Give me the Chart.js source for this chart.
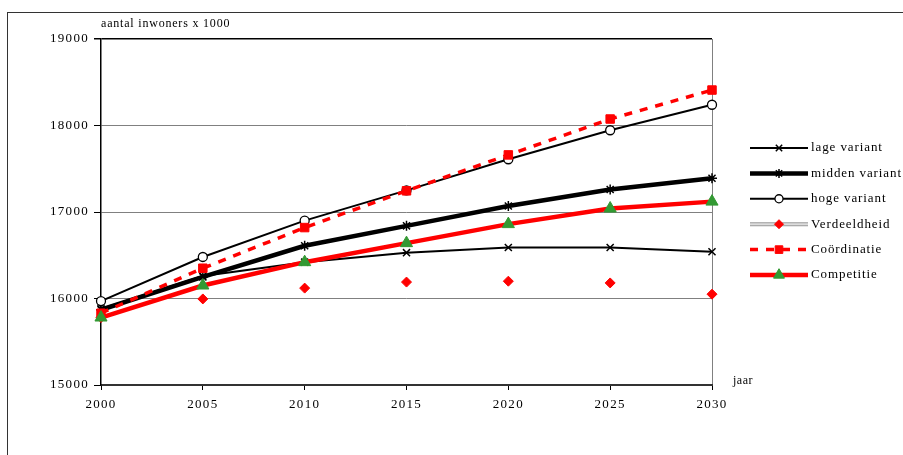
<!DOCTYPE html>
<html>
<head>
<meta charset="utf-8">
<script src="https://cdn.jsdelivr.net/npm/chart.js@4.4.0/dist/chart.umd.min.js"></script>
<style>
  html, body { margin: 0; padding: 0; background: #fff; }
  #wrap { position: relative; width: 903px; height: 455px; overflow: hidden; }
  #frame { position: absolute; left: 7px; top: 12px; width: 1000px; height: 1000px; border-left: 1.5px solid #333; border-top: 1.5px solid #333; }
  canvas { position: absolute; left: 0; top: 0; }
</style>
</head>
<body>
<div id="wrap">
  <div id="frame"></div>
  <canvas id="c" width="903" height="455"></canvas>
</div>
<script>
const years = ['2000', '2005', '2010', '2015', '2020', '2025', '2030'];
const lageVariant = [15880, 16260, 16420, 16530, 16590, 16590, 16540];
const middenVariant = [15870, 16250, 16610, 16840, 17070, 17260, 17390];
const hogeVariant = [15970, 16480, 16900, 17250, 17610, 17945, 18240];
const verdeeldheid = [15780, 15995, 16120, 16190, 16200, 16180, 16050];
const coordinatie = [15830, 16350, 16820, 17245, 17660, 18075, 18410];
const competitie = [15780, 16150, 16420, 16640, 16860, 17040, 17120];
const yTitle = 'aantal inwoners x 1000';
const xTitle = 'jaar';

const SERIF = '"Liberation Serif", "DejaVu Serif", serif';

const datasets = [
  { label: 'lage variant', data: lageVariant, borderColor: '#000', borderWidth: 2,
    pointStyle: 'crossRot', pointRadius: 5, pointBorderColor: '#000', pointBorderWidth: 1.5, pointBackgroundColor: '#000', order: 6 },
  { label: 'midden variant', data: middenVariant, borderColor: '#000', borderWidth: 4.5,
    pointStyle: 'star', pointRadius: 5, pointBorderColor: '#000', pointBorderWidth: 1.5, pointBackgroundColor: '#000', order: 5 },
  { label: 'hoge variant', data: hogeVariant, borderColor: '#000', borderWidth: 2,
    pointStyle: 'circle', pointRadius: 4.5, pointBorderColor: '#000', pointBorderWidth: 1.3, pointBackgroundColor: '#fff', order: 4 },
  { label: 'Verdeeldheid', data: verdeeldheid, borderColor: '#b8b8b8', borderWidth: 4, showLine: false,
    pointStyle: 'rectRot', pointRadius: 5, pointBorderColor: '#ff0000', pointBorderWidth: 1, pointBackgroundColor: '#ff0000', order: 3 },
  { label: 'Coördinatie', data: coordinatie, borderColor: '#ff0000', borderWidth: 3.5, borderDash: [8, 8],
    pointStyle: 'rect', pointRadius: 6, pointBorderColor: '#ff0000', pointBorderWidth: 1, pointBackgroundColor: '#ff0000', order: 2 },
  { label: 'Competitie', data: competitie, borderColor: '#ff0000', borderWidth: 4.5,
    pointStyle: 'triangle', pointRadius: 7, pointBorderColor: '#339933', pointBorderWidth: 1, pointBackgroundColor: '#339933', order: 1 }
];
datasets.forEach(d => { d.fill = false; d.tension = 0; d.clip = false; d.pointHoverRadius = d.pointRadius; });

const spacing = { id: 'spacing', beforeDraw(chart) { chart.ctx.letterSpacing = '1.3px'; } };

const extras = {
  id: 'extras',
  afterDraw(chart) {
    const ctx = chart.ctx;
    const area = chart.chartArea;
    ctx.save();
    ctx.fillStyle = '#000';
    ctx.letterSpacing = '0.8px';
    ctx.font = '12px ' + SERIF;
    ctx.textAlign = 'left';
    ctx.textBaseline = 'middle';
    ctx.fillText(yTitle, area.left, 24);
    ctx.letterSpacing = '0.5px';
    ctx.font = '12px ' + SERIF;
    ctx.fillText(xTitle, area.right + 21, area.bottom - 4);
    // legend
    const x0 = 750, x1 = 808, y0 = 148, dy = 25.4;
    ctx.letterSpacing = '0.9px';
    ctx.font = '13px ' + SERIF;
    chart.data.datasets.forEach((ds, i) => {
      const y = y0 + i * dy;
      ctx.save();
      if (ds.label === 'Verdeeldheid') {
        ctx.strokeStyle = '#9a9a9a'; ctx.lineWidth = 4;
        ctx.beginPath(); ctx.moveTo(x0, y); ctx.lineTo(x1, y); ctx.stroke();
        ctx.strokeStyle = '#dcdcdc'; ctx.lineWidth = 2;
        ctx.beginPath(); ctx.moveTo(x0, y); ctx.lineTo(x1, y); ctx.stroke();
      } else {
        ctx.strokeStyle = ds.borderColor; ctx.lineWidth = ds.borderWidth;
        ctx.setLineDash(ds.borderDash || []);
        ctx.beginPath(); ctx.moveTo(x0, y); ctx.lineTo(x1, y); ctx.stroke();
      }
      ctx.restore();
      ctx.save();
      ctx.fillStyle = ds.pointBackgroundColor; ctx.strokeStyle = ds.pointBorderColor; ctx.lineWidth = ds.pointBorderWidth;
      Chart.helpers.drawPoint(ctx, {
        pointStyle: ds.pointStyle, radius: ds.pointRadius * 0.9, rotation: 0,
        borderWidth: ds.pointBorderWidth
      }, (x0 + x1) / 2, y);
      ctx.restore();
      ctx.fillStyle = '#000';
      ctx.textAlign = 'left';
      ctx.textBaseline = 'middle';
      ctx.fillText(ds.label, x1 + 3, y);
    });
    ctx.restore();
  }
};

new Chart(document.getElementById('c'), {
  type: 'line',
  data: { labels: years, datasets },
  plugins: [spacing, extras],
  options: {
    responsive: false,
    animation: false,
    events: [],
    layout: { padding: { left: 0, right: 191, top: 39, bottom: 0 } },
    plugins: { legend: { display: false }, tooltip: { enabled: false } },
    scales: {
      x: {
        type: 'category',
        offset: false,
        afterFit(s) { s.height = 70; },
        grid: {
          drawOnChartArea: true,
          drawTicks: true,
          tickLength: 5,
          color: ctx => ctx.index === years.length - 1 ? '#808080' : 'rgba(0,0,0,0)',
          tickColor: '#000',
          lineWidth: 1
        },
        border: { display: true, color: '#333', width: 2 },
        ticks: { color: '#000', font: { family: SERIF, size: 13 }, padding: 7, maxRotation: 0, autoSkip: false }
      },
      y: {
        min: 15000,
        max: 19000,
        afterFit(s) { s.width = 101; },
        grid: {
          color: ctx => ctx.tick && ctx.tick.value === 19000 ? '#000' : (ctx.tick && ctx.tick.value === 15000 ? 'rgba(0,0,0,0)' : '#808080'),
          tickColor: '#000',
          tickLength: 7,
          lineWidth: ctx => ctx.tick && ctx.tick.value === 19000 ? 1.5 : 1
        },
        border: { display: true, color: '#000', width: 1.5 },
        ticks: { stepSize: 1000, color: '#000', font: { family: SERIF, size: 13 }, padding: 5,
          callback: v => String(v) }
      }
    }
  }
});
</script>
</body>
</html>
